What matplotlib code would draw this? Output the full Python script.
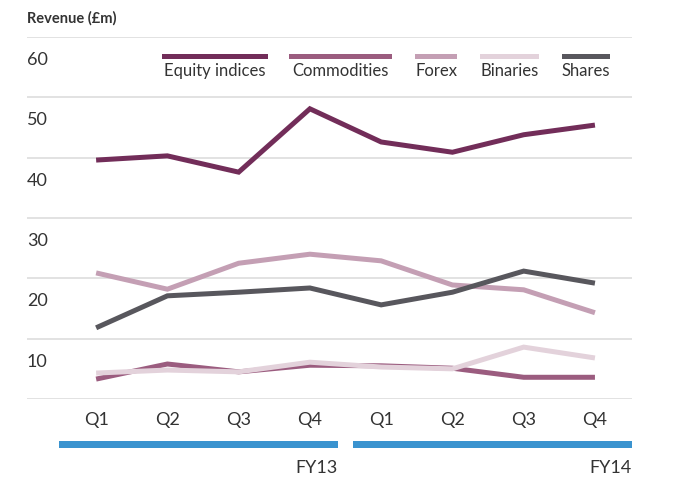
import matplotlib.pyplot as plt
from matplotlib.patches import Rectangle

quarters = ["Q1", "Q2", "Q3", "Q4", "Q1", "Q2", "Q3", "Q4"]
years = ["FY13", "FY14"]
equity = [39.6, 40.3, 37.6, 48.1, 42.6, 40.9, 43.8, 45.4]
commodities = [3.3, 5.8, 4.5, 5.6, 5.5, 5.1, 3.6, 3.6]
forex = [20.9, 18.2, 22.5, 24.0, 22.9, 18.9, 18.1, 14.3]
binaries = [4.3, 4.8, 4.5, 6.1, 5.3, 5.0, 8.6, 6.8]
shares = [11.8, 17.1, 17.7, 18.4, 15.6, 17.7, 21.2, 19.2]
ytick_vals = [10, 20, 30, 40, 50, 60]

colors = {
    "Equity indices": "#722d59",
    "Commodities": "#9b5c7f",
    "Forex": "#c49fb4",
    "Binaries": "#e3d2db",
    "Shares": "#58575d",
}
series = [("Commodities", commodities), ("Binaries", binaries),
          ("Forex", forex), ("Shares", shares), ("Equity indices", equity)]

plt.rcParams['font.family'] = ['Lato', 'DejaVu Sans']

fig = plt.figure(figsize=(6.79, 4.83), dpi=100)
ax = fig.add_axes([27 / 679, 1 - 399 / 483, 605 / 679, 362 / 483])
x = list(range(len(quarters)))

for name, vals in series:
    ax.plot(x, vals, color=colors[name], lw=3.6, solid_capstyle='butt',
            solid_joinstyle='miter', zorder=3)

ax.set_xlim(-0.97, 7.52)
ax.set_ylim(0, 60)
ax.set_yticks(range(0, 61, 10))
ax.set_yticklabels([])
ax.tick_params(axis='y', length=0)
ax.grid(axis='y', color='#dddddd', lw=1.2)
ax.set_xticks(x)
ax.set_xticklabels(quarters, fontsize=13, color='#333333')
ax.tick_params(axis='x', length=0, pad=9)
for s in ax.spines.values():
    s.set_visible(False)

for v in ytick_vals:
    ax.text(0, v - 3.8, str(v), transform=ax.get_yaxis_transform(),
            ha='left', va='center', fontsize=13, color='#333333')

# year bars
trans = ax.get_xaxis_transform()
for (x0, x1), yr in zip([(-0.52, 3.39), (3.6, 7.52)], years):
    ax.add_patch(Rectangle((x0, -0.135), x1 - x0, 0.02, transform=trans,
                           color='#3a93cf', clip_on=False, lw=0))
    ax.text(x1, -0.19, yr, transform=trans, ha='right', va='center',
            fontsize=13, color='#333333')

fig.text(27 / 679, 1 - 18 / 483, "Revenue (£m)", fontsize=10.5, fontweight='bold',
         color='#333333', va='center', ha='left')

# legend
legend_items = [("Equity indices", 162, 268), ("Commodities", 289, 392),
                ("Forex", 415, 457), ("Binaries", 480, 539), ("Shares", 562, 610)]
for name, px0, px1 in legend_items:
    fig.patches.append(Rectangle((px0 / 679, 1 - 59 / 483), (px1 - px0) / 679, 5 / 483,
                                 transform=fig.transFigure, color=colors[name], lw=0))
    fig.text((px0 + px1) / 2 / 679, 1 - 71 / 483, name, fontsize=12,
             color='#333333', ha='center', va='center')

fig.savefig("out.png", dpi=100)
